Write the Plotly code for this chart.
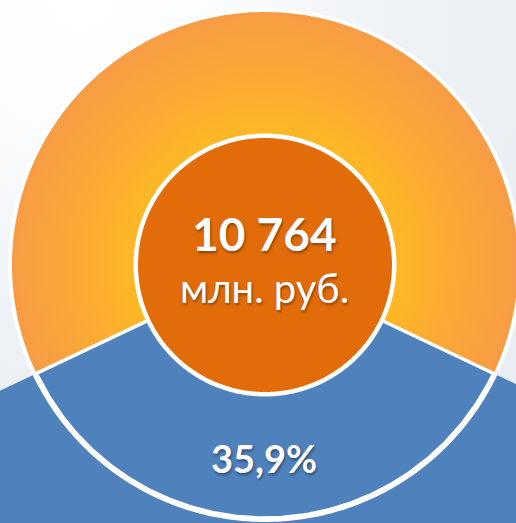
import numpy as np
import plotly.graph_objects as go

# Budget figures shown in the chart
total_value = 10764          # млн. руб.
unit_label = "млн. руб."
share_values = [35.9, 64.1]  # %, highlighted share and the rest
share_colors = ["#4f81bd", None]

W, H = 516, 523
CX, CY = 265, 265            # centre of the disc (pixel-like axis units)
R_OUT = 253                  # outer ring radius
R_IN = 127                   # inner disc radius


def circle(r, n=361):
    t = np.linspace(0, 2 * np.pi, n)
    return CX + r * np.sin(t), CY + r * np.cos(t)


def sector(r0, r1, a0, a1, n=200):
    # angles measured from the downward direction (screen y grows downward)
    t = np.linspace(a0, a1, n)
    xo, yo = CX + r1 * np.sin(t), CY + r1 * np.cos(t)
    if r0 == 0:
        xs = np.concatenate([[CX], xo, [CX]])
        ys = np.concatenate([[CY], yo, [CY]])
    else:
        xi, yi = CX + r0 * np.sin(t[::-1]), CY + r0 * np.cos(t[::-1])
        xs = np.concatenate([xo, xi, xo[:1]])
        ys = np.concatenate([yo, yi, yo[:1]])
    return xs, ys


half = share_values[0] / sum(share_values) * np.pi   # half of the blue slice angle

fig = go.Figure()

# soft page background
bx = [-455, 615, 615, -455, -455]
by = [-535, -535, 535, 535, -535]
fig.add_trace(go.Scatter(
    x=bx, y=by, fill="toself", mode="none",
    fillgradient=dict(type="radial",
                      colorscale=[[0, "#ffffff"], [0.25, "#fbfcfd"], [0.6, "#eef2f6"], [1, "#e9eef4"]]),
))

# blue slice continued out to the page edges
ex, ey = sector(0, 2000, -half, half)
fig.add_trace(go.Scatter(x=ex, y=ey, fill="toself", mode="none", fillcolor=share_colors[0]))

# white rim of the outer disc
x, y = circle(R_OUT + 4)
fig.add_trace(go.Scatter(x=x, y=y, fill="toself", mode="none", fillcolor="#ffffff"))

# orange disc with a warm radial gradient
x, y = circle(R_OUT)
fig.add_trace(go.Scatter(
    x=x, y=y, fill="toself", mode="none",
    fillgradient=dict(type="radial",
                      colorscale=[[0, "#fec01c"], [0.5, "#fdb923"], [0.75, "#faa935"], [1, "#f79c45"]]),
))

# highlighted share
sx, sy = sector(0, R_OUT, -half, half)
fig.add_trace(go.Scatter(x=sx, y=sy, fill="toself", mode="lines",
                         line=dict(color="#ffffff", width=3.5),
                         fillcolor=share_colors[0]))

# inner disc with white rim
x, y = circle(R_IN + 4.5)
fig.add_trace(go.Scatter(x=x, y=y, fill="toself", mode="none", fillcolor="#ffffff"))
x, y = circle(R_IN)
fig.add_trace(go.Scatter(x=x, y=y, fill="toself", mode="none", fillcolor="#e36c0a"))

shadow = "1px 2px 3px rgba(0,0,0,0.4)"
total_text = f"{total_value:,}".replace(",", " ")
share_text = f"{share_values[0]:.1f}".replace(".", ",") + "%"
label_r = (R_IN + R_OUT) / 2

annotations = [
    dict(x=CX - 1, y=CY - 32, text=f"<b>{total_text}</b>",
         font=dict(family="Lato, Open Sans, sans-serif", size=46, color="#ffffff", shadow=shadow)),
    dict(x=CX - 1, y=CY + 23, text=unit_label,
         font=dict(family="Lato, Open Sans, sans-serif", size=40, color="#ffffff", shadow=shadow)),
    dict(x=CX - 1, y=CY + label_r + 3, text=f"<b>{share_text}</b>",
         font=dict(family="Lato, Open Sans, sans-serif", size=38, color="#ffffff", shadow=shadow)),
]
for a in annotations:
    a.update(xref="x", yref="y", showarrow=False, xanchor="center", yanchor="middle")

fig.update_traces(hoverinfo="skip", showlegend=False)
fig.update_layout(
    width=W, height=H,
    margin=dict(l=0, r=0, t=0, b=0),
    paper_bgcolor="#f2f5f9", plot_bgcolor="#f2f5f9",
    xaxis=dict(range=[0, W], visible=False, fixedrange=True),
    yaxis=dict(range=[H, 0], visible=False, fixedrange=True),
    annotations=annotations,
)

fig.write_html("out.html", config={"displayModeBar": False})
